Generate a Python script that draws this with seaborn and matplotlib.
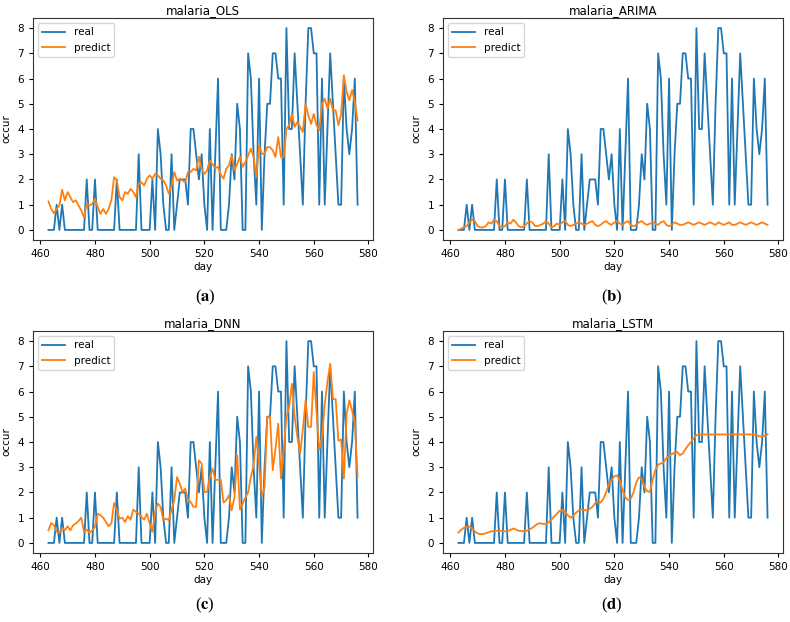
import matplotlib
matplotlib.use("Agg")
import matplotlib.pyplot as plt
import seaborn as sns
import numpy as np
import pandas as pd

# days shown on the x axis (one point per day)
days = np.arange(463, 577)

real = [0, 0, 0, 1, 0, 1, 0, 0, 0, 0,
        0, 0, 0, 0, 2, 0, 0, 2, 0, 0,
        0, 0, 0, 0, 0, 2, 0, 0, 0, 0,
        0, 0, 0, 3, 0, 0, 0, 0, 2, 0,
        4, 3, 1, 0, 0, 3, 0, 1, 2, 2,
        2, 1, 4, 4, 3, 2, 3, 1, 0, 4,
        0, 3, 6, 0, 0, 0, 1, 3, 2, 5,
        4, 0, 0, 7, 6, 3, 1, 6, 0, 3,
        5, 5, 7, 7, 6, 6, 1, 8, 4, 4,
        7, 5, 3, 1, 5, 8, 8, 7, 7, 1,
        6, 1, 4, 7, 5, 3, 1, 1, 6, 4,
        3, 4, 6, 1]

pred_ols = [1.13, 0.83, 0.66, 0.83, 0.97, 1.59, 1.17, 1.5, 1.3, 1.1,
            1.17, 0.97, 0.77, 0.5, 1.03, 0.97, 1.03, 1.23, 0.9, 0.64,
            0.83, 0.64, 0.83, 1.17, 2.09, 1.96, 1.3, 1.17, 1.5, 1.43,
            1.63, 1.5, 1.3, 1.83, 1.89, 1.76, 2.03, 2.16, 2.03, 2.22,
            2.16, 2.03, 1.96, 1.76, 1.43, 1.76, 2.29, 1.96, 2.03, 1.96,
            1.89, 2.29, 2.29, 2.42, 2.36, 2.9, 2.42, 2.22, 2.36, 2.75,
            2.6, 2.45, 2.5, 2.2, 2.03, 2.42, 2.56, 2.95, 2.36, 2.62,
            2.89, 2.5, 2.69, 2.95, 3.22, 2.89, 2.09, 3.35, 3.02, 3.02,
            3.28, 3.28, 3.15, 2.89, 3.68, 2.89, 2.89, 4.0, 4.15, 4.6,
            4.08, 4.28, 4.08, 3.88, 5.0, 4.54, 4.2, 4.6, 4.15, 3.95,
            5.0, 5.2, 4.8, 5.2, 4.74, 4.74, 4.15, 4.6, 6.13, 5.47,
            5.14, 5.54, 5.07, 4.34]

pred_arima = [0.0, 0.05, 0.1, 0.15, 0.3, 0.4, 0.35, 0.15, 0.1, 0.1,
              0.15, 0.3, 0.25, 0.4, 0.35, 0.15, 0.1, 0.15, 0.3, 0.25,
              0.4, 0.3, 0.15, 0.1, 0.15, 0.25, 0.35, 0.3, 0.15, 0.15,
              0.2, 0.25, 0.35, 0.25, 0.1, 0.15, 0.25, 0.2, 0.3, 0.35,
              0.2, 0.15, 0.2, 0.25, 0.3, 0.25, 0.2, 0.25, 0.3, 0.35,
              0.2, 0.15, 0.2, 0.3, 0.35, 0.25, 0.2, 0.3, 0.35, 0.25,
              0.2, 0.3, 0.35, 0.2, 0.15, 0.2, 0.3, 0.35, 0.25, 0.2,
              0.25, 0.3, 0.25, 0.2, 0.3, 0.35, 0.2, 0.15, 0.2, 0.3,
              0.25, 0.2, 0.2, 0.25, 0.3, 0.25, 0.2, 0.25, 0.3, 0.25,
              0.2, 0.25, 0.3, 0.25, 0.2, 0.3, 0.25, 0.2, 0.25, 0.3,
              0.2, 0.2, 0.25, 0.3, 0.25, 0.2, 0.25, 0.3, 0.25, 0.2,
              0.25, 0.3, 0.25, 0.2]

pred_dnn = [0.5, 0.79, 0.7, 0.44, 0.4, 0.6, 0.5, 0.66, 0.5, 0.7,
            0.77, 0.87, 1.0, 0.44, 0.53, 0.4, 0.5, 0.63, 1.16, 1.1,
            1.0, 0.83, 0.66, 0.77, 1.58, 1.29, 0.96, 1.0, 0.83, 1.06,
            0.92, 1.32, 1.23, 1.16, 1.03, 0.92, 1.16, 0.77, 0.44, 1.23,
            1.56, 1.43, 0.9, 0.96, 0.9, 1.32, 1.69, 2.61, 2.35, 2.02,
            2.15, 1.72, 1.62, 1.43, 1.43, 3.27, 3.14, 2.02, 2.02, 2.61,
            2.94, 2.5, 2.5, 2.5, 1.6, 1.69, 1.89, 1.29, 1.8, 3.47,
            1.32, 1.55, 1.8, 2.0, 2.61, 3.08, 4.2, 3.14, 1.82, 2.2,
            5.0, 5.0, 2.88, 3.74, 4.73, 2.55, 3.7, 5.0, 5.39, 6.31,
            5.0, 4.2, 3.54, 4.5, 5.65, 4.6, 4.6, 6.77, 5.2, 3.7,
            4.2, 5.5, 6.38, 7.1, 5.7, 5.7, 4.05, 4.1, 2.55, 5.1,
            5.65, 5.25, 4.75, 2.61]

pred_lstm = [0.41, 0.52, 0.6, 0.65, 0.65, 0.57, 0.45, 0.38, 0.35, 0.35,
             0.38, 0.42, 0.46, 0.48, 0.48, 0.48, 0.47, 0.46, 0.47, 0.52,
             0.57, 0.53, 0.48, 0.47, 0.47, 0.48, 0.53, 0.6, 0.68, 0.76,
             0.78, 0.75, 0.75, 0.83, 0.92, 1.05, 1.15, 1.28, 1.3, 1.23,
             1.1, 1.0, 1.08, 1.2, 1.28, 1.32, 1.3, 1.29, 1.35, 1.43,
             1.58, 1.65, 1.6, 1.75, 2.0, 2.3, 2.5, 2.64, 2.68, 2.45,
             2.1, 1.8, 1.7, 1.75, 2.0, 2.4, 2.6, 2.55, 2.22, 2.05,
             2.02, 2.5, 2.9, 3.1, 3.15, 3.2, 3.35, 3.45, 3.52, 3.58,
             3.6, 3.48, 3.55, 3.72, 3.87, 4.0, 4.15, 4.27, 4.3, 4.3,
             4.3, 4.3, 4.3, 4.3, 4.3, 4.3, 4.3, 4.3, 4.3, 4.3,
             4.3, 4.3, 4.3, 4.3, 4.3, 4.3, 4.3, 4.3, 4.3, 4.28,
             4.22, 4.22, 4.25, 4.3]

titles = ['malaria_OLS', 'malaria_ARIMA', 'malaria_DNN', 'malaria_LSTM']
preds = [pred_ols, pred_arima, pred_dnn, pred_lstm]
captions = ['a', 'b', 'c', 'd']

plt.rcParams['font.family'] = ['DejaVu Sans']
plt.rcParams['font.size'] = 7.5
plt.rcParams['mathtext.fontset'] = 'stix'

fig = plt.figure(figsize=(7.9, 6.22), dpi=100)

W, H = 790, 622
lefts = [33, 443, 33, 443]
tops = [18, 18, 331, 331]
cap_pos = [(205, 297), (612, 297), (205, 605), (612, 605)]

for i in range(4):
    ax = fig.add_axes([lefts[i] / W, (H - tops[i] - 222) / H, 340 / W, 222 / H])
    df = pd.DataFrame({'day': days, 'real': real, 'predict': preds[i]})
    sns.lineplot(data=df, x='day', y='real', ax=ax, color='#1f77b4', linewidth=1.3, label='real')
    sns.lineplot(data=df, x='day', y='predict', ax=ax, color='#ff7f0e', linewidth=1.3, label='predict')
    ax.set_title(titles[i], fontsize=8.5, pad=3)
    ax.set_xlabel('day', labelpad=2)
    ax.set_ylabel('occur')
    ax.set_xticks([460, 480, 500, 520, 540, 560, 580])
    ax.set_yticks(range(0, 9))
    ax.tick_params(labelsize=7.5, length=3)
    for s in ax.spines.values():
        s.set_color('#333333')
    ax.legend(loc='upper left', fontsize=7.5, handlelength=2.2)
    cx, cy = cap_pos[i]
    fig.text(cx / W, 1 - cy / H, r'($\mathbf{%s}$)' % captions[i], ha='center', va='center',
             fontsize=12, family='Liberation Serif')

fig.savefig('out.png', dpi=100)
